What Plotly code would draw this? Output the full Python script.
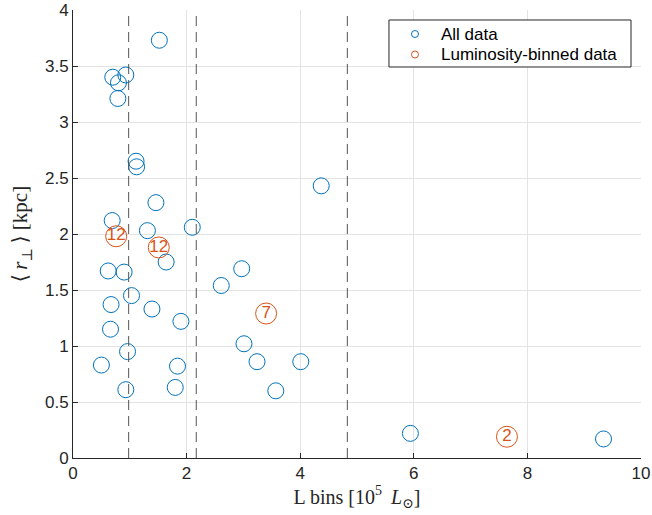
import plotly.graph_objects as go

# All data (blue)
all_x = [1.52, 0.70, 0.93, 0.80, 0.79, 1.11, 1.12, 4.37, 1.46, 0.69, 1.31, 2.10,
         1.64, 0.62, 0.90, 2.97, 2.61, 1.03, 0.67, 1.39, 1.90, 0.66, 3.01, 0.96,
         0.50, 1.84, 3.24, 4.01, 0.93, 1.80, 3.57, 5.94, 9.34]
all_y = [3.73, 3.40, 3.42, 3.35, 3.21, 2.65, 2.60, 2.43, 2.28, 2.12, 2.03, 2.06,
         1.75, 1.67, 1.66, 1.69, 1.54, 1.45, 1.37, 1.33, 1.22, 1.15, 1.02, 0.95,
         0.83, 0.82, 0.86, 0.86, 0.61, 0.63, 0.60, 0.22, 0.17]

# Luminosity-binned data (orange) with counts
bin_x = [0.76, 1.51, 3.40, 7.64]
bin_y = [1.98, 1.88, 1.29, 0.19]
bin_n = ["12", "12", "7", "2"]

# Bin edges (dashed lines)
bin_edges = [0.98, 2.17, 4.83]

x_ticks = [0, 2, 4, 6, 8, 10]
y_ticks = [0, 0.5, 1, 1.5, 2, 2.5, 3, 3.5, 4]
y_tick_labels = ["0", "0.5", "1", "1.5", "2", "2.5", "3", "3.5", "4"]

legend_names = ["All data", "Luminosity-binned data"]

BLUE = "#0072BD"
ORANGE = "#D95319"
AX = "#262626"

fig = go.Figure()
fig.add_trace(go.Scatter(x=all_x, y=all_y, mode="markers", showlegend=False,
                         name=legend_names[0],
                         marker=dict(symbol="circle-open", size=16, color=BLUE,
                                     line=dict(width=1, color=BLUE))))
fig.add_trace(go.Scatter(x=bin_x, y=bin_y, mode="markers+text", text=bin_n,
                         textposition="middle center", showlegend=False,
                         name=legend_names[1],
                         textfont=dict(family="Liberation Sans, Arial", size=17, color=ORANGE),
                         marker=dict(symbol="circle-open", size=21, color=ORANGE,
                                     line=dict(width=1, color=ORANGE))))

for e in bin_edges:
    fig.add_shape(type="line", x0=e, x1=e, xref="x", y0=0, y1=1, yref="paper",
                  line=dict(color="#555555", width=1, dash="10px,6px"), layer="above")

# legend box (drawn manually to match spacing)
fig.add_shape(type="rect", xref="paper", yref="paper", x0=0.5563, x1=0.9824,
              y0=0.8728, y1=0.9777, fillcolor="white",
              line=dict(color=AX, width=1), layer="above")
leg_rows = [0.9464, 0.9007]
for name, col, yy in zip(legend_names, [BLUE, ORANGE], leg_rows):
    fig.add_shape(type="circle", xref="paper", yref="paper",
                  xsizemode="pixel", ysizemode="pixel",
                  xanchor=0.6021, yanchor=yy, x0=-3.5, x1=3.5, y0=-3.5, y1=3.5,
                  line=dict(color=col, width=1), fillcolor="rgba(0,0,0,0)", layer="above")
    fig.add_annotation(x=0.6444, y=yy, xref="paper", yref="paper", text=name,
                       showarrow=False, xanchor="left", yanchor="middle",
                       font=dict(family="Liberation Sans, Arial", size=17, color="#000000"))

axis_common = dict(showgrid=True, gridcolor="#e3e3e3", gridwidth=1, zeroline=False,
                   showline=True, linecolor=AX, linewidth=1, ticks="inside",
                   ticklen=5, tickcolor=AX, automargin=False, ticklabeloverflow="allow",
                   tickfont=dict(family="Liberation Sans, Arial", size=17, color=AX))

fig.update_layout(
    width=652, height=515,
    margin=dict(l=73, r=11, t=10, b=57),
    plot_bgcolor="white", paper_bgcolor="white",
    showlegend=False,
    xaxis=dict(range=[0, 10], tickvals=x_ticks, **axis_common,
               title=dict(text="L bins [10<sup>5</sup>\u2009 <i>L</i><sub>⊙</sub>]",
                          font=dict(family="Liberation Serif, DejaVu Serif", size=20, color=AX),
                          standoff=3)),
    yaxis=dict(range=[0, 4], tickvals=y_ticks, ticktext=y_tick_labels, **axis_common,
               title=dict(text="⟨\u2009<i>r</i><sub>⊥</sub>\u2009⟩ [kpc]",
                          font=dict(family="Liberation Serif, DejaVu Serif", size=21, color=AX),
                          standoff=11)),
)

fig.write_html("out.html", post_script="document.body.style.margin='0';",
               config=dict(displayModeBar=False))
